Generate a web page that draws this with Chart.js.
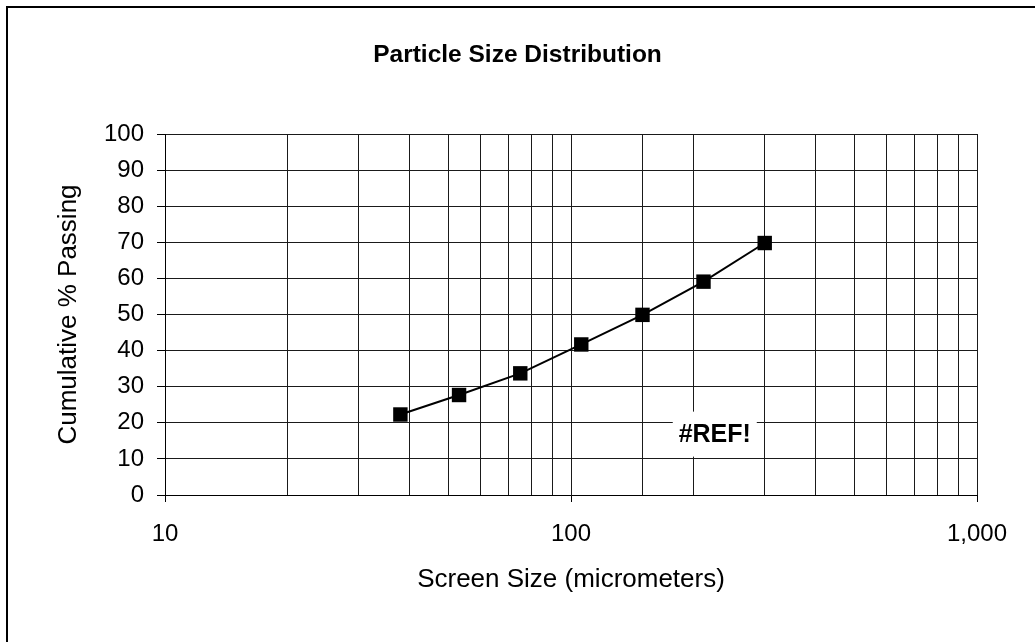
<!DOCTYPE html>
<html>
<head>
<meta charset="utf-8">
<script src="https://cdn.jsdelivr.net/npm/chart.js@4/dist/chart.umd.min.js"></script>
<style>
  html, body { margin: 0; padding: 0; background: #fff; }
  #wrap { position: relative; width: 1035px; height: 642px; }
</style>
</head>
<body>
<div id="wrap"><canvas id="c" width="1035" height="642"></canvas></div>
<script>
// ---- data ----
const screenSizes = [38, 53, 75, 106, 150, 212, 300];          // micrometers
const cumulativePassing = [22.3, 27.7, 33.7, 41.7, 49.9, 59.1, 69.8]; // %
const yTicks = [0, 10, 20, 30, 40, 50, 60, 70, 80, 90, 100];
const xMajorTicks = [10, 100, 1000];
const refLabelText = '#REF!';
const refLabelPos = { x: 226, y: 17 };

const FONT = '"Liberation Sans", Arial, Helvetica, sans-serif';

const borderPlugin = {
  id: 'outerBorder',
  beforeDraw(chart) {
    const ctx = chart.ctx;
    ctx.save();
    ctx.fillStyle = '#fff';
    ctx.fillRect(0, 0, chart.width, chart.height);
    ctx.fillStyle = '#000';
    ctx.fillRect(6, 6, 2, chart.height - 6);
    ctx.fillRect(6, 6, chart.width - 6, 2);
    ctx.restore();
  }
};

const refLabelPlugin = {
  id: 'refLabel',
  afterDatasetsDraw(chart) {
    const ctx = chart.ctx;
    const px = chart.scales.x.getPixelForValue(refLabelPos.x);
    const py = chart.scales.y.getPixelForValue(refLabelPos.y);
    ctx.save();
    ctx.fillStyle = '#fff';
    ctx.fillRect(px - 42, py - 22, 84, 45);
    ctx.fillStyle = '#000';
    ctx.font = 'bold 25px ' + FONT;
    ctx.textAlign = 'center';
    ctx.textBaseline = 'middle';
    ctx.fillText(refLabelText, px, py + 1);
    ctx.restore();
  }
};

new Chart(document.getElementById('c'), {
  type: 'line',
  data: {
    datasets: [{
      data: screenSizes.map((s, i) => ({ x: s, y: cumulativePassing[i] })),
      yAxisID: 'y',
      borderColor: '#000',
      borderWidth: 2,
      backgroundColor: '#000',
      pointStyle: 'rect',
      pointRadius: 10.2,
      pointHoverRadius: 10.2,
      pointBackgroundColor: '#000',
      pointBorderColor: '#000',
      pointBorderWidth: 0,
      tension: 0,
      fill: false
    }]
  },
  options: {
    responsive: false,
    animation: false,
    events: [],
    layout: { padding: 0 },
    plugins: {
      legend: { display: false },
      tooltip: { enabled: false },
      title: {
        display: true,
        text: 'Particle Size Distribution',
        color: '#000',
        font: { family: FONT, size: 24.5, weight: 'bold', lineHeight: 1.2 },
        padding: { top: 41, bottom: 63.6 }
      }
    },
    scales: {
      x: {
        type: 'logarithmic',
        min: 10,
        max: 1000,
        afterFit(scale) { scale.height = 147; },
        afterBuildTicks(scale) {
          scale.ticks.forEach(t => { t.major = xMajorTicks.includes(t.value); });
        },
        ticks: {
          autoSkip: false,
          maxRotation: 0,
          padding: 18,
          color: '#000',
          font: { family: FONT, size: 24 },
          callback(value) {
            return xMajorTicks.includes(value) ? value.toLocaleString('en-US') : '';
          }
        },
        grid: {
          color: '#1a1a1a',
          lineWidth: 1,
          tickLength: 7,
          tickColor: ctx => (ctx.tick && xMajorTicks.includes(ctx.tick.value)) ? '#000' : 'rgba(0,0,0,0)'
        },
        border: { display: true, color: '#000', width: 1 },
        title: {
          display: true,
          text: 'Screen Size (micrometers)',
          color: '#000',
          font: { family: FONT, size: 26, lineHeight: 1.2 },
          padding: { top: 47, bottom: 47 }
        }
      },
      y: {
        type: 'linear',
        position: 'left',
        min: 0,
        max: 100,
        afterFit(scale) { scale.width = 165; },
        afterBuildTicks(scale) {
          scale.ticks = yTicks.map(v => ({ value: v }));
        },
        ticks: {
          padding: 13,
          color: '#000',
          font: { family: FONT, size: 24 }
        },
        grid: {
          color: '#1a1a1a',
          lineWidth: 1,
          tickLength: 8,
          tickColor: '#000'
        },
        border: { display: true, color: '#000', width: 1 },
        title: {
          display: true,
          text: 'Cumulative % Passing',
          color: '#000',
          font: { family: FONT, size: 26, lineHeight: 1.2 },
          padding: { top: 53, bottom: 53 }
        }
      },
      yRightSpace: {
        type: 'linear',
        position: 'right',
        min: 0,
        max: 100,
        afterFit(scale) { scale.width = 58; },
        ticks: { display: false },
        grid: { display: false, drawOnChartArea: false },
        border: { display: false }
      }
    }
  },
  plugins: [borderPlugin, refLabelPlugin]
});
</script>
</body>
</html>
